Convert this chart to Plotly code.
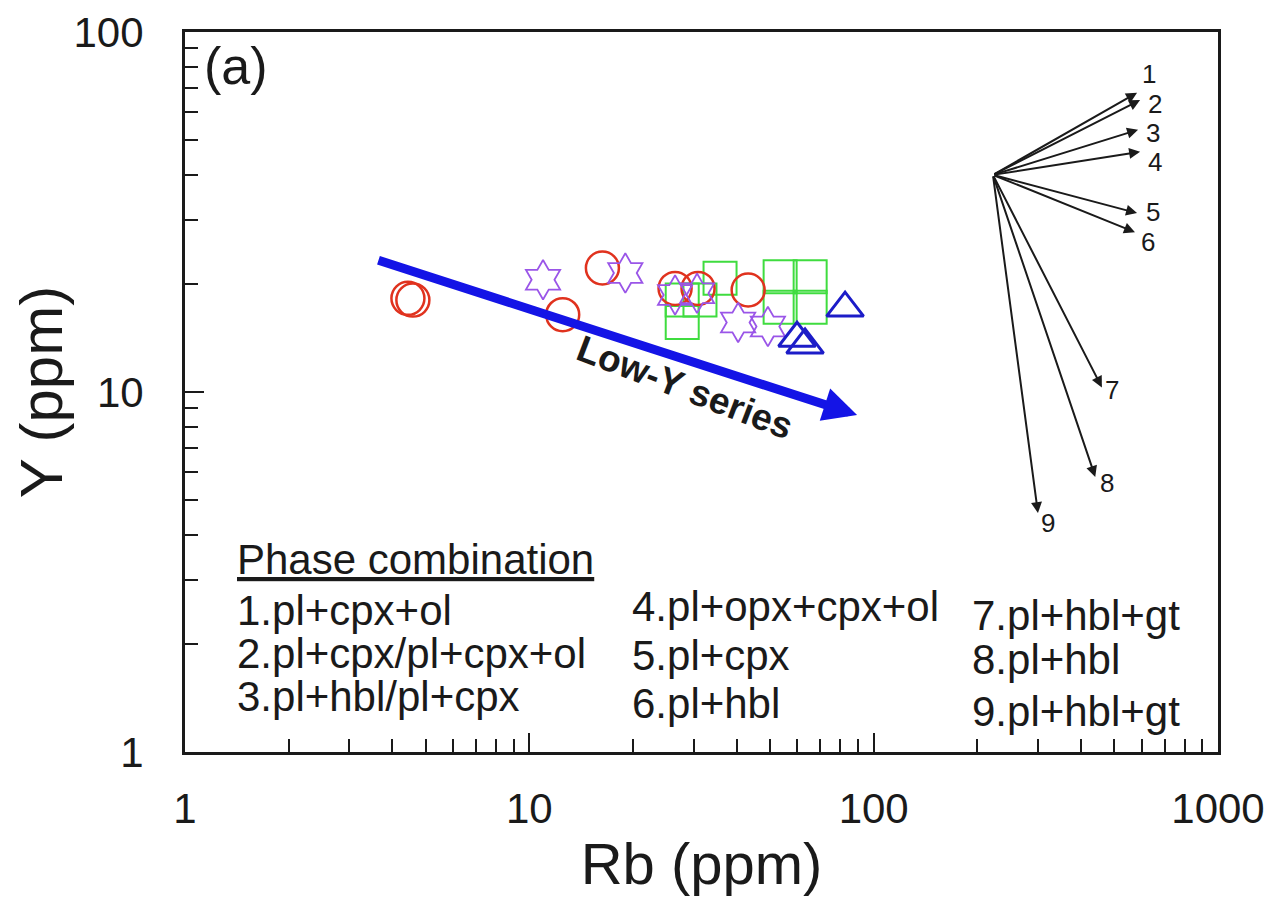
import numpy as np
import plotly.graph_objects as go

# sample groups (Rb, Y in ppm)
circle_rb = [4.44, 4.59, 12.5, 16.3, 26.5, 30.9, 43.2]
circle_y = [18.2, 18.0, 16.4, 22.1, 19.4, 19.4, 19.2]

star_rb = [10.96, 19.0, 26.5, 30.7, 40.4, 49.3]
star_y = [20.5, 21.4, 18.6, 18.8, 15.6, 15.2]

square_rb = [35.8, 53.5, 65.4, 53.5, 65.4, 27.8, 27.8, 31.3]
square_y = [20.7, 20.9, 20.9, 17.2, 17.2, 15.6, 18.0, 18.0]

triangle_rb = [82.6, 59.9, 63.2]
triangle_y = [17.1, 14.1, 13.5]

# low-Y trend arrow
trend_rb = [3.61, 89.5]
trend_y = [23.3, 8.63]

# fractionation vectors (common origin, tips, labels)
vec_origin = (222, 40.1)
vec_names = ["1", "2", "3", "4", "5", "6", "7", "8", "9"]
vec_tip_rb = [582, 594, 586, 594, 582, 574, 460, 440, 300]
vec_tip_y = [67.8, 64.7, 53.5, 46.5, 31.4, 27.8, 10.3, 5.81, 4.61]
vec_lab_rb = [630, 657, 648, 657, 648, 627, 492, 476, 321]
vec_lab_y = [76.4, 63.1, 52.4, 43.5, 31.6, 26.1, 10.1, 5.59, 4.33]

phase_col1 = ["1.pl+cpx+ol", "2.pl+cpx/pl+cpx+ol", "3.pl+hbl/pl+cpx"]
phase_col2 = ["4.pl+opx+cpx+ol", "5.pl+cpx", "6.pl+hbl"]
phase_col3 = ["7.pl+hbl+gt", "8.pl+hbl", "9.pl+hbl+gt"]

FONT = "Liberation Sans, Arial, sans-serif"
INK = "#1a1a1a"

fig = go.Figure()

fig.add_trace(go.Scatter(x=square_rb, y=square_y, mode="markers",
                         marker=dict(symbol="square-open", size=33, color="#3fdc3f",
                                     line=dict(width=2))))
fig.add_trace(go.Scatter(x=circle_rb, y=circle_y, mode="markers",
                         marker=dict(symbol="circle-open", size=33, color="#e0321e",
                                     line=dict(width=2.5))))
fig.add_trace(go.Scatter(x=star_rb, y=star_y, mode="markers",
                         marker=dict(symbol="hexagram-open", size=30, color="#9a55e8",
                                     line=dict(width=1.8))))
fig.add_trace(go.Scatter(x=triangle_rb, y=triangle_y, mode="markers",
                         marker=dict(symbol="triangle-up-open", size=32, color="#1c1cc8",
                                     line=dict(width=3))))

lx = np.log10
# thick blue trend arrow
fig.add_annotation(x=lx(trend_rb[1]), y=lx(trend_y[1]), ax=lx(trend_rb[0]), ay=lx(trend_y[0]),
                   xref="x", yref="y", axref="x", ayref="y", text="", showarrow=True,
                   arrowhead=2, arrowsize=0.75, arrowwidth=9, arrowcolor="#1414e6", standoff=0)
fig.add_annotation(x=lx(28.3), y=lx(10.26), xref="x", yref="y", text="<b>Low-Y series</b>",
                   showarrow=False, textangle=21, font=dict(family=FONT, size=37, color=INK))

# vectors
for name, tx, ty, nx, ny in zip(vec_names, vec_tip_rb, vec_tip_y, vec_lab_rb, vec_lab_y):
    fig.add_annotation(x=lx(tx), y=lx(ty), ax=lx(vec_origin[0]), ay=lx(vec_origin[1]),
                       xref="x", yref="y", axref="x", ayref="y", text="", showarrow=True,
                       arrowhead=2, arrowsize=1.1, arrowwidth=2, arrowcolor=INK, standoff=0)
    fig.add_annotation(x=lx(nx), y=lx(ny), xref="x", yref="y", text=name, showarrow=False,
                       font=dict(family=FONT, size=26, color=INK))

# panel label and phase legend
fig.add_annotation(x=0.016, y=0.953, xref="paper", yref="paper", text="(a)", showarrow=False,
                   xanchor="left", yanchor="middle", font=dict(family=FONT, size=52, color=INK))
fig.add_annotation(x=0.048, y=0.267, xref="paper", yref="paper", text="<u>Phase combination</u>",
                   showarrow=False, xanchor="left", yanchor="middle",
                   font=dict(family=FONT, size=42, color=INK))
cols = [(0.048, phase_col1, [0.197, 0.1375, 0.0764]),
        (0.431, phase_col2, [0.2014, 0.1347, 0.068]),
        (0.760, phase_col3, [0.190, 0.1278, 0.0556])]
for cx, lines, ys in cols:
    for txt, cy in zip(lines, ys):
        fig.add_annotation(x=cx, y=cy, xref="paper", yref="paper", text=txt, showarrow=False,
                           xanchor="left", yanchor="middle",
                           font=dict(family=FONT, size=42, color=INK))

minor_vals = [m * 10 ** d for d in range(3) for m in range(2, 10)]
axis_common = dict(type="log", showline=True, linewidth=3, linecolor=INK, mirror=True,
                   ticks="inside", ticklen=19, tickwidth=2, tickcolor=INK,
                   showgrid=False, zeroline=False, automargin=False,
                   tickfont=dict(family=FONT, size=42, color=INK),
                   minor=dict(ticks="inside", ticklen=13, tickwidth=2, tickcolor=INK,
                              tickvals=minor_vals, showgrid=False))
fig.update_xaxes(range=[0, 3], tickvals=[1, 10, 100, 1000], ticktext=["1", "10", "100", "1000"],
                 ticklabelstandoff=18,
                 title=dict(text="Rb (ppm)", font=dict(family=FONT, size=58, color=INK), standoff=12),
                 **axis_common)
fig.update_yaxes(range=[0, 2], tickvals=[1, 10, 100], ticktext=["1", "10", "100"],
                 ticklabelstandoff=30,
                 title=dict(text="Y (ppm)", font=dict(family=FONT, size=60, color=INK), standoff=8),
                 **axis_common)

# page body adds ~8px offset, so the figure is sized to fit inside the window
fig.update_layout(width=1263, height=897, showlegend=False,
                  margin=dict(l=177, r=53, t=24, b=153),
                  plot_bgcolor="white", paper_bgcolor="white")

fig.write_html("out.html")
